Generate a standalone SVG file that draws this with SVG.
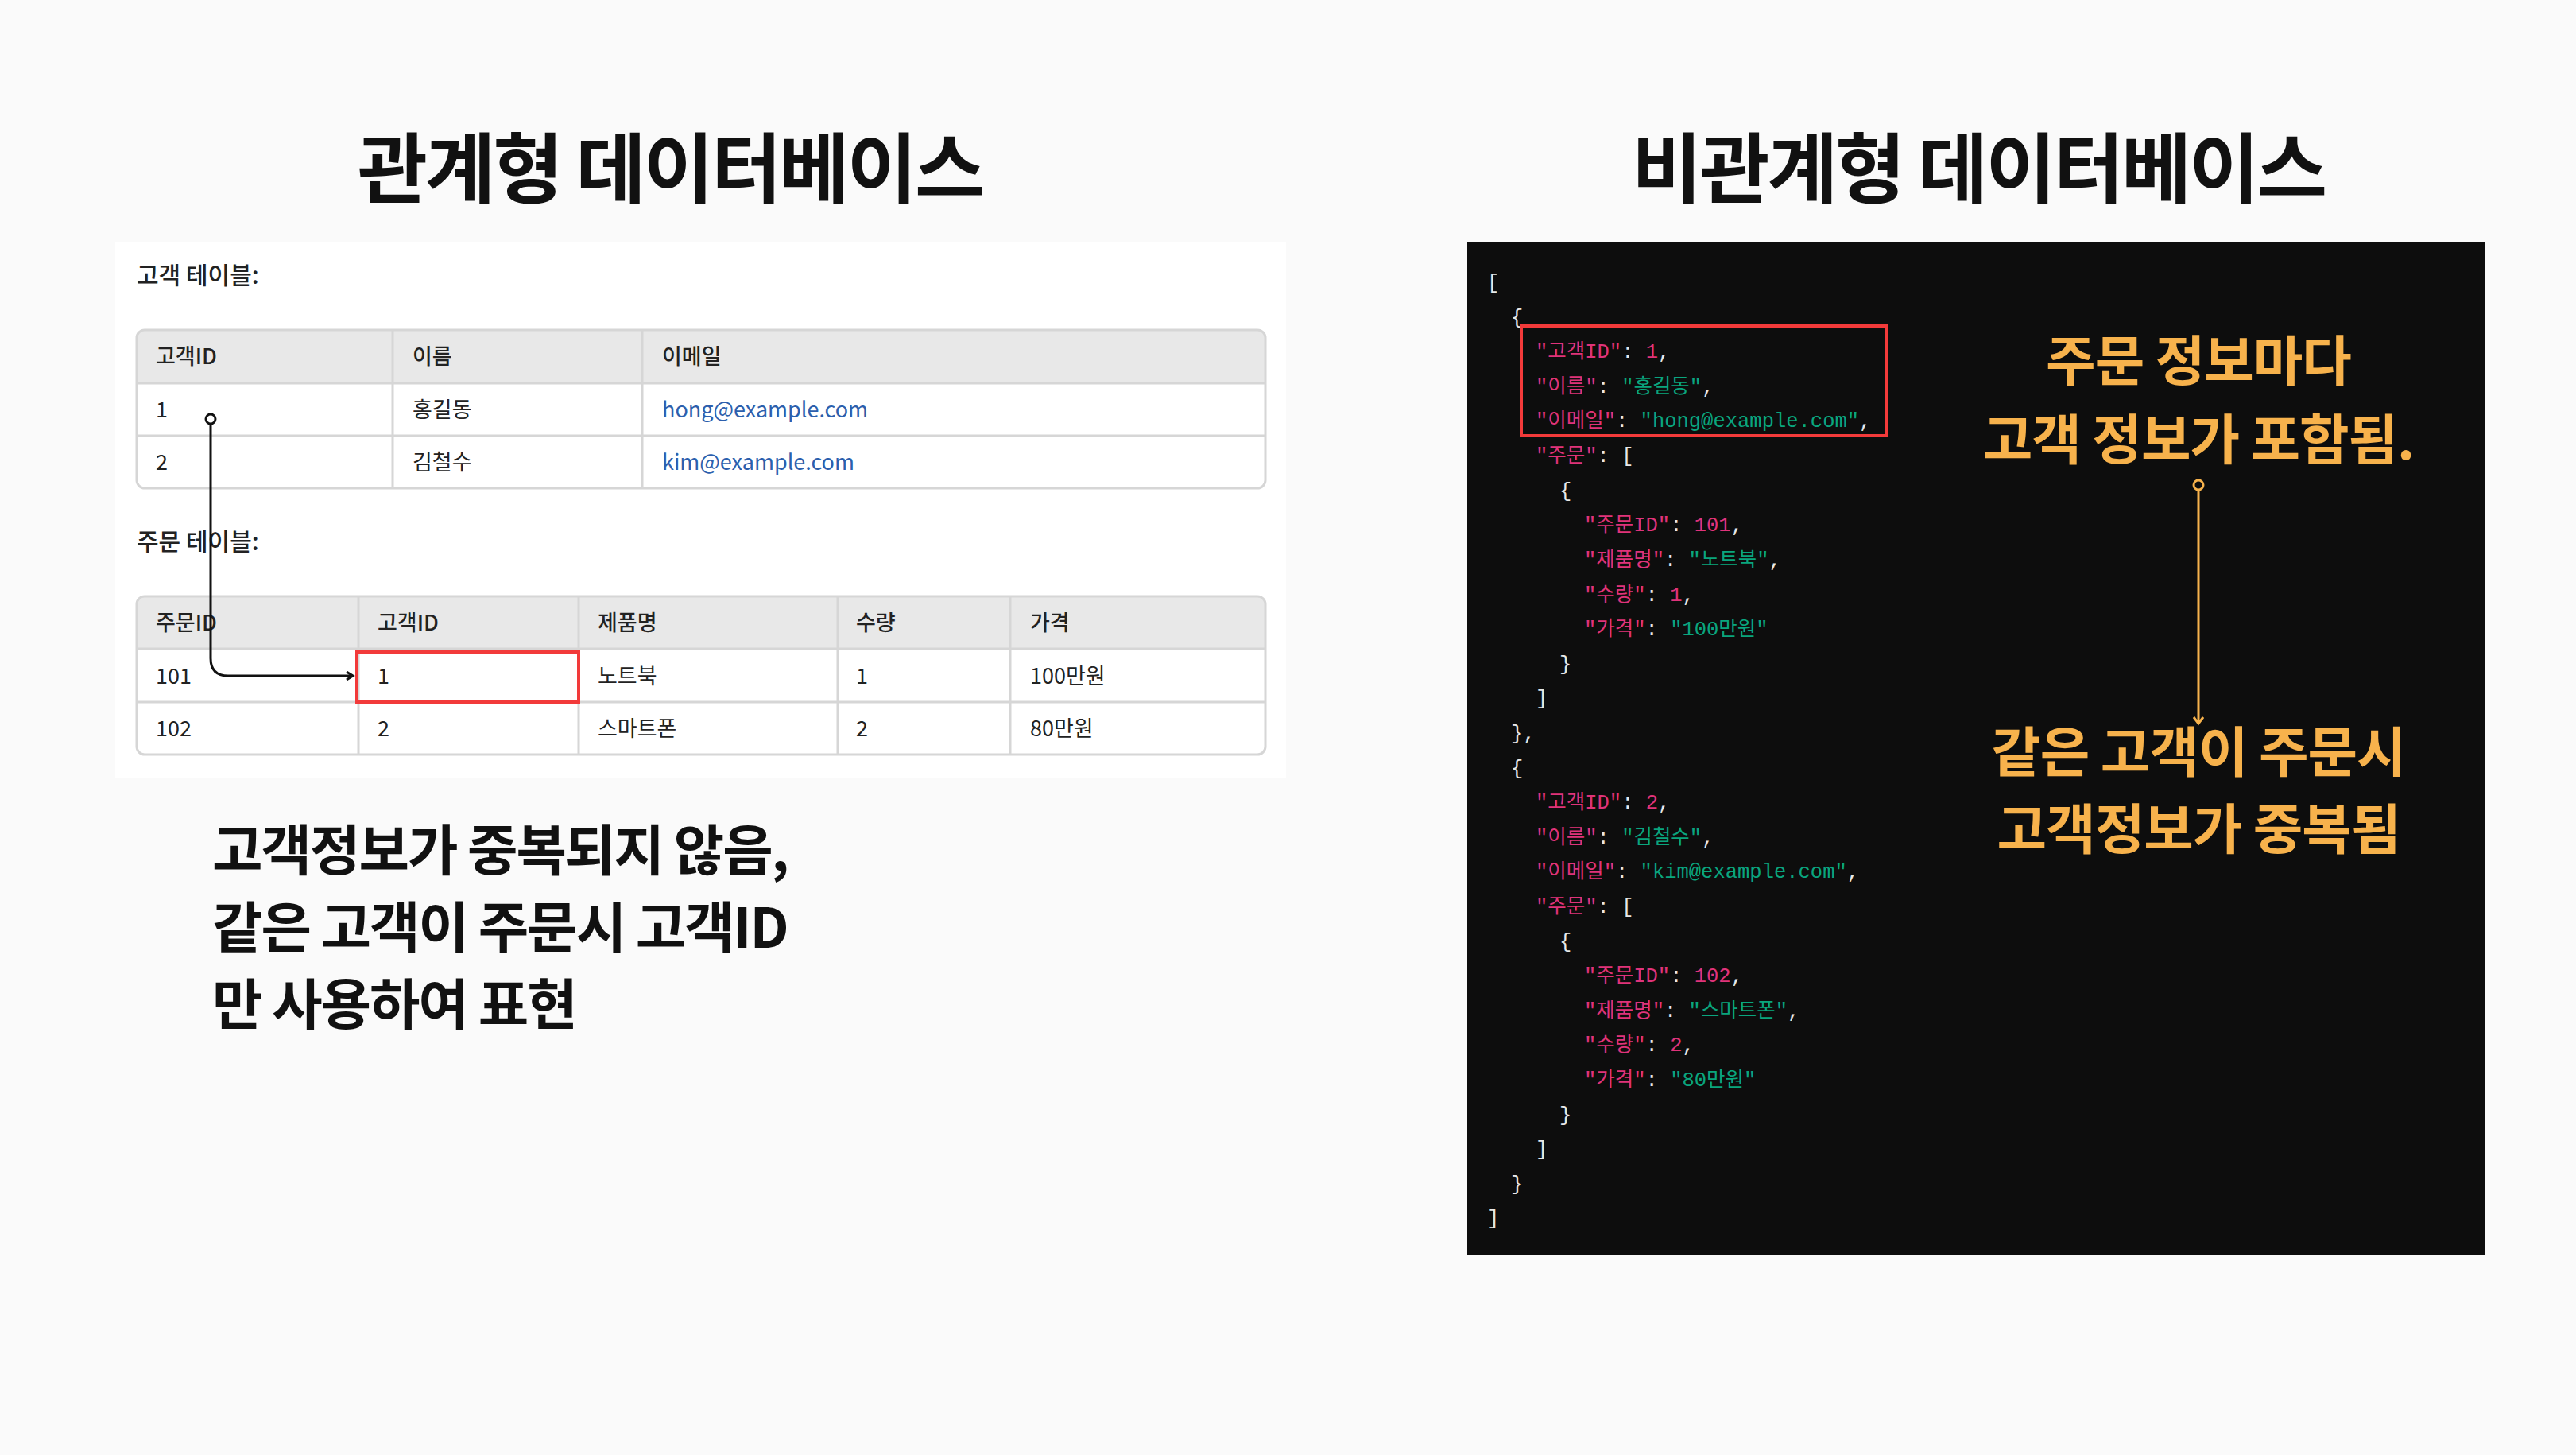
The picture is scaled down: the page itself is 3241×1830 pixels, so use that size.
<svg xmlns="http://www.w3.org/2000/svg" width="3241" height="1830" viewBox="0 0 3241 1830">
<style>
.title{font-family:"Noto Sans CJK KR","Noto Sans",sans-serif;font-weight:700;font-size:96px;fill:#111;text-anchor:middle;letter-spacing:-3px}
.lbl{font-family:"Noto Sans CJK KR","Noto Sans",sans-serif;font-size:30px;fill:#222;font-weight:500}
.th{font-family:"Noto Sans CJK KR","Noto Sans",sans-serif;font-size:27px;fill:#222;font-weight:500}
.td{font-family:"Noto Sans CJK KR","Noto Sans",sans-serif;font-size:27px;fill:#222}
.link{fill:#2c5fad}
.note{font-family:"Noto Sans CJK KR","Noto Sans",sans-serif;font-weight:700;font-size:69px;fill:#111;letter-spacing:-2px}
.orange{font-family:"Noto Sans CJK KR","Noto Sans",sans-serif;font-weight:700;font-size:68px;fill:#f7b24c;text-anchor:middle;letter-spacing:-1px}
.code{font-family:"Liberation Mono","Noto Sans CJK KR",monospace;font-size:25.5px;fill:#e8e8e8}
.k{fill:#e0337a}.s{fill:#0aa57e}.n{fill:#e0337a}
.hdr{fill:#e8e8e8}
.grid{stroke:#d6d6d6;stroke-width:3;fill:none}
</style>
<defs>
<marker id="ab" markerWidth="12" markerHeight="12" refX="9" refY="6" orient="auto" markerUnits="userSpaceOnUse"><path d="M1,1 L9,6 L1,11" fill="none" stroke="#111" stroke-width="3"/></marker>
<marker id="ao" markerWidth="14" markerHeight="14" refX="7" refY="11" orient="0" markerUnits="userSpaceOnUse"><path d="M1,3 L7,11 L13,3" fill="none" stroke="#f7b24c" stroke-width="3"/></marker>
</defs>
<rect width="3241" height="1830" fill="#fafafa"/>
<g id="titles">
<text class="title" x="843" y="247">관계형 데이터베이스</text>
<text class="title" x="2489" y="247">비관계형 데이터베이스</text>
</g>
<g id="left-panel">
<rect x="145" y="304" width="1473" height="674" fill="#ffffff"/>
<text class="lbl" x="172" y="357">고객 테이블:</text>
<g id="customer-table">
<rect x="172" y="415" width="1420" height="199" rx="10" fill="#fff"/>
<path class="hdr" d="M182,415 H1582 A10,10 0 0 1 1592,425 V482 H172 V425 A10,10 0 0 1 182,415 Z"/>
<rect class="grid" x="172" y="415" width="1420" height="199" rx="10"/>
<path class="grid" d="M172,482 H1592 M172,548 H1592 M494,415 V614 M808,415 V614"/>
<text class="th" x="196" y="458">고객ID</text><text class="th" x="519" y="458">이름</text><text class="th" x="833" y="458">이메일</text>
<text class="td" x="196" y="525">1</text><text class="td" x="519" y="525">홍길동</text><text class="td link" x="833" y="525">hong@example.com</text>
<text class="td" x="196" y="591">2</text><text class="td" x="519" y="591">김철수</text><text class="td link" x="833" y="591">kim@example.com</text>
</g>
<text class="lbl" x="172" y="692">주문 테이블:</text>
<g id="order-table">
<rect x="172" y="750" width="1420" height="199" rx="10" fill="#fff"/>
<path class="hdr" d="M182,750 H1582 A10,10 0 0 1 1592,760 V816 H172 V760 A10,10 0 0 1 182,750 Z"/>
<rect class="grid" x="172" y="750" width="1420" height="199" rx="10"/>
<path class="grid" d="M172,816 H1592 M172,883 H1592 M451,750 V949 M728,750 V949 M1054,750 V949 M1271,750 V949"/>
<text class="th" x="196" y="793">주문ID</text><text class="th" x="475" y="793">고객ID</text><text class="th" x="752" y="793">제품명</text><text class="th" x="1077" y="793">수량</text><text class="th" x="1296" y="793">가격</text>
<text class="td" x="196" y="860">101</text><text class="td" x="475" y="860">1</text><text class="td" x="752" y="860">노트북</text><text class="td" x="1077" y="860">1</text><text class="td" x="1296" y="860">100만원</text>
<text class="td" x="196" y="926">102</text><text class="td" x="475" y="926">2</text><text class="td" x="752" y="926">스마트폰</text><text class="td" x="1077" y="926">2</text><text class="td" x="1296" y="926">80만원</text>
<rect x="449" y="820" width="279" height="63" fill="none" stroke="#f23a3a" stroke-width="4"/>
</g>
</g>
<g id="left-note">
<text class="note" x="267" y="1095">고객정보가 중복되지 않음,</text>
<text class="note" x="267" y="1192">같은 고객이 주문시 고객ID</text>
<text class="note" x="267" y="1289">만 사용하여 표현</text>
</g>
<g id="json-panel">
<rect x="1846" y="304" width="1281" height="1275" fill="#0d0d0d"/>
<g class="code" transform="translate(0,-6)">
<text x="1871" y="369">[</text>
<text x="1901" y="413">{</text>
<text x="1932" y="456"><tspan class="k">"고객ID"</tspan>: <tspan class="n">1</tspan>,</text>
<text x="1932" y="500"><tspan class="k">"이름"</tspan>: <tspan class="s">"홍길동"</tspan>,</text>
<text x="1932" y="543"><tspan class="k">"이메일"</tspan>: <tspan class="s">"hong@example.com"</tspan>,</text>
<text x="1932" y="587"><tspan class="k">"주문"</tspan>: [</text>
<text x="1962" y="631">{</text>
<text x="1993" y="674"><tspan class="k">"주문ID"</tspan>: <tspan class="n">101</tspan>,</text>
<text x="1993" y="718"><tspan class="k">"제품명"</tspan>: <tspan class="s">"노트북"</tspan>,</text>
<text x="1993" y="762"><tspan class="k">"수량"</tspan>: <tspan class="n">1</tspan>,</text>
<text x="1993" y="805"><tspan class="k">"가격"</tspan>: <tspan class="s">"100만원"</tspan></text>
<text x="1962" y="849">}</text>
<text x="1932" y="892">]</text>
<text x="1901" y="936">},</text>
<text x="1901" y="980">{</text>
<text x="1932" y="1023"><tspan class="k">"고객ID"</tspan>: <tspan class="n">2</tspan>,</text>
<text x="1932" y="1067"><tspan class="k">"이름"</tspan>: <tspan class="s">"김철수"</tspan>,</text>
<text x="1932" y="1110"><tspan class="k">"이메일"</tspan>: <tspan class="s">"kim@example.com"</tspan>,</text>
<text x="1932" y="1154"><tspan class="k">"주문"</tspan>: [</text>
<text x="1962" y="1198">{</text>
<text x="1993" y="1241"><tspan class="k">"주문ID"</tspan>: <tspan class="n">102</tspan>,</text>
<text x="1993" y="1285"><tspan class="k">"제품명"</tspan>: <tspan class="s">"스마트폰"</tspan>,</text>
<text x="1993" y="1328"><tspan class="k">"수량"</tspan>: <tspan class="n">2</tspan>,</text>
<text x="1993" y="1372"><tspan class="k">"가격"</tspan>: <tspan class="s">"80만원"</tspan></text>
<text x="1962" y="1416">}</text>
<text x="1932" y="1459">]</text>
<text x="1901" y="1503">}</text>
<text x="1871" y="1546">]</text>
</g>
<rect x="1914" y="410" width="459" height="138" fill="none" stroke="#f23a3a" stroke-width="4"/>
</g>
<g id="right-note">
<text class="orange" x="2766" y="479">주문 정보마다</text>
<text class="orange" x="2766" y="578">고객 정보가 포함됨.</text>
<text class="orange" x="2766" y="971">같은 고객이 주문시</text>
<text class="orange" x="2766" y="1068">고객정보가 중복됨</text>
</g>
<g id="connectors">
<circle cx="265" cy="527" r="6" fill="#fff" stroke="#111" stroke-width="3"/>
<path d="M265,533 V828 Q265,850 287,850 H444" fill="none" stroke="#111" stroke-width="3" marker-end="url(#ab)"/>
<circle cx="2766" cy="610" r="6" fill="none" stroke="#f7b24c" stroke-width="3"/>
<path d="M2766,616 V910" fill="none" stroke="#f7b24c" stroke-width="3" marker-end="url(#ao)"/>
</g>
</svg>
